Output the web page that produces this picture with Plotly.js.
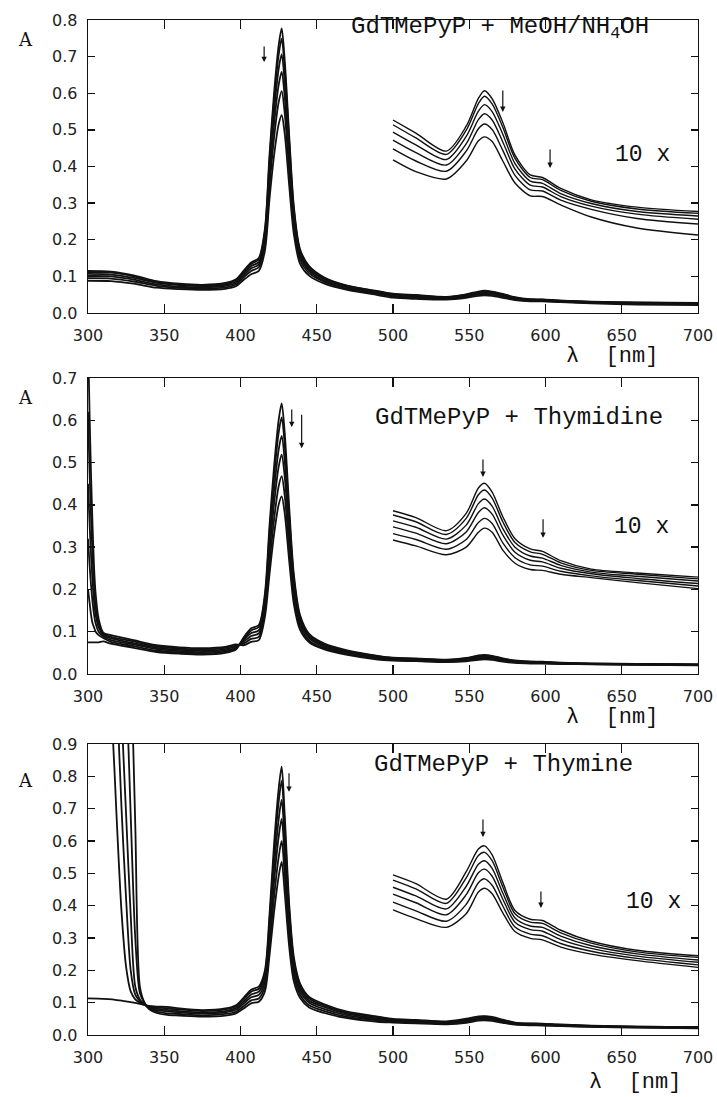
<!DOCTYPE html>
<html>
<head>
<meta charset="utf-8">
<script src="https://cdn.plot.ly/plotly-3.0.1.min.js"></script>
<style>html,body{margin:0;padding:0;background:#fff;}#chart{width:717px;height:1097px;}</style>
</head>
<body>
<div id="chart"></div>
<script>
// ---------- DATA (absorbance) ----------
const xTickVals = [300,350,400,450,500,550,600,650,700];
const insetStart = 500;      // the "10 x" traces are drawn for λ >= 500 nm
const insetFactor = 10;

// Panel 1: GdTMePyP + MeOH/NH4OH
const wl1 = [300,315,330,345,360,375,390,397,402,407,412,416,419,422,425,427,429,432,435,439,445,455,470,490,500,515,535,548,556,560,565,572,580,590,598,610,630,660,700];
const p1_c0 = [0.115,0.113,0.103,0.087,0.080,0.077,0.082,0.092,0.115,0.138,0.150,0.23,0.43,0.60,0.73,0.777,0.69,0.48,0.29,0.175,0.128,0.097,0.075,0.060,0.0527,0.0491,0.0442,0.0510,0.0586,0.0607,0.0585,0.0520,0.0431,0.0377,0.0370,0.0340,0.0309,0.0289,0.0277];
const p1_c1 = [0.112,0.110,0.100,0.085,0.078,0.075,0.080,0.090,0.112,0.134,0.146,0.223,0.416,0.580,0.704,0.749,0.666,0.464,0.281,0.170,0.125,0.095,0.074,0.059,0.0514,0.0478,0.0433,0.0499,0.0572,0.0592,0.0571,0.0507,0.0422,0.0370,0.0364,0.0335,0.0305,0.0284,0.0272];
const p1_c2 = [0.107,0.105,0.096,0.082,0.076,0.073,0.077,0.086,0.107,0.128,0.139,0.212,0.394,0.549,0.666,0.706,0.630,0.440,0.268,0.163,0.120,0.092,0.071,0.057,0.0494,0.0459,0.0419,0.0482,0.0551,0.0569,0.0550,0.0488,0.0408,0.0360,0.0354,0.0326,0.0299,0.0277,0.0265];
const p1_c3 = [0.101,0.100,0.091,0.078,0.072,0.070,0.074,0.082,0.102,0.122,0.132,0.200,0.370,0.515,0.622,0.658,0.590,0.412,0.252,0.155,0.115,0.088,0.069,0.0545,0.0472,0.0438,0.0404,0.0462,0.0528,0.0544,0.0527,0.0467,0.0393,0.0349,0.0344,0.0318,0.0292,0.0270,0.0256];
const p1_c4 = [0.095,0.094,0.086,0.074,0.069,0.067,0.070,0.078,0.097,0.115,0.125,0.187,0.344,0.478,0.575,0.606,0.546,0.383,0.236,0.146,0.109,0.085,0.066,0.052,0.0448,0.0415,0.0387,0.0442,0.0503,0.0516,0.0501,0.0444,0.0376,0.0336,0.0333,0.0308,0.0283,0.0258,0.0243];
const p1_c5 = [0.088,0.087,0.080,0.069,0.065,0.063,0.066,0.073,0.090,0.106,0.115,0.17,0.31,0.43,0.515,0.54,0.49,0.345,0.215,0.135,0.102,0.080,0.063,0.049,0.0418,0.0386,0.0366,0.0415,0.0470,0.0481,0.0468,0.0415,0.0355,0.0320,0.0318,0.0295,0.0262,0.0232,0.0213];

// Panel 2: GdTMePyP + Thymidine
const wl2 = [300,301,302,303,304,305,307,310,315,330,345,360,375,390,397,402,407,412,416,419,422,425,427,429,432,435,439,445,455,470,490,500,515,535,548,556,560,565,572,580,590,598,610,630,660,700];
const p2_c0 = [0.075,0.075,0.075,0.075,0.075,0.075,0.075,0.077,0.072,0.062,0.052,0.048,0.046,0.050,0.058,0.086,0.108,0.116,0.19,0.35,0.49,0.60,0.64,0.57,0.39,0.235,0.14,0.095,0.072,0.056,0.043,0.0386,0.0370,0.0339,0.0380,0.0440,0.0451,0.0430,0.0372,0.0320,0.0296,0.0290,0.0268,0.0248,0.0239,0.0229];
const p2_c1 = [0.20,0.17,0.14,0.12,0.11,0.10,0.092,0.085,0.076,0.066,0.055,0.051,0.049,0.053,0.060,0.083,0.103,0.111,0.182,0.333,0.466,0.570,0.607,0.542,0.371,0.225,0.135,0.092,0.070,0.054,0.042,0.0376,0.0360,0.0330,0.0368,0.0424,0.0435,0.0416,0.0360,0.0311,0.0289,0.0283,0.0263,0.0245,0.0236,0.0225];
const p2_c2 = [0.32,0.26,0.21,0.17,0.14,0.12,0.10,0.089,0.080,0.070,0.059,0.054,0.052,0.056,0.062,0.080,0.097,0.103,0.171,0.310,0.434,0.530,0.563,0.504,0.346,0.211,0.128,0.088,0.067,0.052,0.040,0.0362,0.0347,0.0319,0.0352,0.0403,0.0414,0.0397,0.0344,0.0300,0.0279,0.0274,0.0257,0.0241,0.0231,0.0220];
const p2_c3 = [0.45,0.36,0.28,0.22,0.17,0.14,0.11,0.092,0.084,0.073,0.062,0.057,0.055,0.059,0.065,0.076,0.090,0.096,0.160,0.287,0.402,0.490,0.519,0.466,0.321,0.197,0.121,0.084,0.064,0.050,0.038,0.0348,0.0333,0.0308,0.0336,0.0382,0.0393,0.0378,0.0329,0.0288,0.0269,0.0265,0.0250,0.0237,0.0226,0.0214];
const p2_c4 = [0.62,0.48,0.37,0.28,0.21,0.16,0.12,0.095,0.088,0.077,0.065,0.060,0.058,0.062,0.067,0.072,0.083,0.088,0.147,0.260,0.365,0.444,0.468,0.422,0.293,0.180,0.113,0.079,0.061,0.047,0.036,0.0332,0.0318,0.0295,0.0318,0.0358,0.0368,0.0356,0.0310,0.0275,0.0258,0.0255,0.0243,0.0232,0.0221,0.0208];
const p2_c5 = [0.80,0.62,0.47,0.35,0.25,0.19,0.13,0.098,0.092,0.080,0.068,0.063,0.061,0.064,0.070,0.068,0.076,0.080,0.135,0.235,0.33,0.40,0.42,0.38,0.265,0.165,0.105,0.075,0.058,0.045,0.034,0.0317,0.0303,0.0282,0.0300,0.0335,0.0345,0.0335,0.0293,0.0262,0.0247,0.0245,0.0236,0.0228,0.0216,0.0202];

// Panel 3: GdTMePyP + Thymine
const wl3 = [300,310,316,319,322,325,328,331,334,337,340,345,352,360,375,390,397,402,407,412,416,419,422,425,427,429,432,435,439,445,455,470,490,500,515,535,548,556,560,565,572,580,590,598,610,630,660,700];
const p3_c0 = [0.113,0.112,0.110,0.108,0.106,0.104,0.102,0.099,0.096,0.093,0.090,0.088,0.087,0.082,0.077,0.082,0.092,0.115,0.140,0.150,0.20,0.37,0.59,0.76,0.83,0.68,0.40,0.24,0.16,0.118,0.095,0.072,0.057,0.0495,0.0468,0.0420,0.0505,0.0575,0.0585,0.0557,0.0472,0.0385,0.0358,0.0354,0.0324,0.0290,0.0262,0.0245];
const p3_c1 = [1.4,1.4,0.95,0.65,0.38,0.21,0.135,0.110,0.100,0.093,0.088,0.085,0.083,0.079,0.074,0.079,0.088,0.110,0.134,0.143,0.190,0.351,0.558,0.720,0.786,0.644,0.381,0.229,0.153,0.113,0.091,0.069,0.055,0.0479,0.0452,0.0407,0.0486,0.0555,0.0565,0.0539,0.0458,0.0375,0.0349,0.0345,0.0316,0.0284,0.0257,0.0240];
const p3_c2 = [1.4,1.4,1.4,1.05,0.70,0.42,0.20,0.125,0.105,0.095,0.087,0.081,0.078,0.074,0.070,0.074,0.083,0.103,0.125,0.134,0.177,0.326,0.516,0.666,0.727,0.596,0.355,0.214,0.144,0.106,0.086,0.065,0.051,0.0457,0.0430,0.0390,0.0460,0.0528,0.0539,0.0515,0.0439,0.0362,0.0337,0.0333,0.0306,0.0276,0.0251,0.0232];
const p3_c3 = [1.4,1.4,1.4,1.4,1.0,0.68,0.37,0.15,0.11,0.095,0.085,0.077,0.073,0.070,0.066,0.070,0.078,0.097,0.117,0.124,0.164,0.301,0.474,0.612,0.668,0.548,0.329,0.199,0.135,0.100,0.080,0.061,0.048,0.0436,0.0409,0.0372,0.0434,0.0502,0.0513,0.0491,0.0420,0.0349,0.0326,0.0321,0.0295,0.0268,0.0244,0.0225];
const p3_c4 = [1.4,1.4,1.4,1.4,1.4,1.1,0.68,0.30,0.13,0.10,0.083,0.072,0.067,0.065,0.061,0.065,0.072,0.089,0.107,0.113,0.149,0.272,0.426,0.549,0.600,0.493,0.299,0.182,0.125,0.092,0.074,0.056,0.045,0.0411,0.0384,0.0352,0.0404,0.0471,0.0483,0.0463,0.0399,0.0334,0.0312,0.0307,0.0283,0.0259,0.0237,0.0217];
const p3_c5 = [1.4,1.4,1.4,1.4,1.4,1.4,1.15,0.65,0.15,0.10,0.080,0.068,0.062,0.060,0.057,0.060,0.067,0.082,0.098,0.103,0.135,0.245,0.38,0.49,0.535,0.44,0.27,0.165,0.115,0.085,0.068,0.052,0.041,0.0387,0.0360,0.0333,0.0375,0.0442,0.0454,0.0437,0.0378,0.0320,0.0299,0.0294,0.0272,0.0250,0.0230,0.0209];

const panels = [
  {wl: wl1, curves: [p1_c0,p1_c1,p1_c2,p1_c3,p1_c4,p1_c5], ax: ''},
  {wl: wl2, curves: [p2_c0,p2_c1,p2_c2,p2_c3,p2_c4,p2_c5], ax: '2'},
  {wl: wl3, curves: [p3_c0,p3_c1,p3_c2,p3_c3,p3_c4,p3_c5], ax: '3'}
];
const titles = ['GdTMePyP + MeOH/NH<sub>4</sub>OH', 'GdTMePyP + Thymidine', 'GdTMePyP + Thymine'];
const yRanges = [0.8, 0.7, 0.9];

// ---------- TRACES ----------
const traces = [];
panels.forEach(p => {
  p.curves.forEach(c => {
    traces.push({x: p.wl, y: c, type: 'scatter', mode: 'lines',
      line: {color: '#111', width: 1.8, shape: 'spline', smoothing: 0.8},
      xaxis: 'x' + p.ax, yaxis: 'y' + p.ax, hoverinfo: 'skip'});
    const xi = [], yi = [];
    p.wl.forEach((w, i) => { if (w >= insetStart) { xi.push(w); yi.push(c[i] * insetFactor); } });
    traces.push({x: xi, y: yi, type: 'scatter', mode: 'lines',
      line: {color: '#111', width: 1.4, shape: 'spline', smoothing: 0.8},
      xaxis: 'x' + p.ax, yaxis: 'y' + p.ax, hoverinfo: 'skip'});
  });
});

// ---------- LAYOUT ----------
const W = 717, H = 1097;
const px = v => v / W, py = v => 1 - v / H;
const plotBoxes = [[20, 313], [378, 674], [744, 1035]];
const TICKFONT = {family: 'DejaVu Sans', size: 16, color: '#222'};
const SERIF = 'DejaVu Serif';
const MONO = 'Liberation Mono';

const layout = {
  width: W, height: H, margin: {l: 0, r: 0, t: 0, b: 0},
  paper_bgcolor: '#fff', plot_bgcolor: '#fff', showlegend: false, hovermode: false,
  annotations: []
};
panels.forEach((p, i) => {
  const xa = {domain: [px(88), px(698)], range: [300, 700], tickvals: xTickVals,
    anchor: 'y' + p.ax, showline: true, linecolor: '#111', linewidth: 1.3, mirror: 'ticks',
    ticks: 'inside', ticklen: 9, tickwidth: 1.3, tickcolor: '#111', showgrid: false, zeroline: false,
    tickfont: TICKFONT, ticklabelstandoff: 7};
  const yt = [];
  for (let k = 0; k <= Math.round(yRanges[i] * 10); k++) yt.push(k / 10);
  const ya = {domain: [py(plotBoxes[i][1]), py(plotBoxes[i][0])], range: [0, yRanges[i]], tickvals: yt,
    tickformat: '.1f', anchor: 'x' + p.ax, showline: true, linecolor: '#111', linewidth: 1.3, mirror: 'ticks',
    ticks: 'inside', ticklen: 7, tickwidth: 1.3, tickcolor: '#111', showgrid: false, zeroline: false,
    tickfont: TICKFONT, ticklabelstandoff: 6};
  layout['xaxis' + p.ax] = xa;
  layout['yaxis' + p.ax] = ya;
});

function txt(text, x, y, size, family, extra) {
  layout.annotations.push(Object.assign({text: text, xref: 'paper', yref: 'paper', x: px(x), y: py(y),
    xanchor: 'center', yanchor: 'middle', showarrow: false, font: {family: family, size: size, color: '#111'}}, extra || {}));
}
txt(titles[0], 500, 28, 24, MONO);
txt(titles[1], 519, 417, 24, MONO);
txt(titles[2], 503, 764, 24, MONO);
txt('10 x', 642, 155, 23, MONO);
txt('10 x', 641, 527, 23, MONO);
txt('10 x', 653, 902, 23, MONO);
txt('A', 25, 40, 18, SERIF);
txt('A', 25, 397, 18, SERIF);
txt('A', 25, 780, 18, SERIF);
txt('λ  [nm]', 612, 356, 22, MONO);
txt('λ  [nm]', 612, 718, 22, MONO);
txt('λ  [nm]', 635, 1082, 22, MONO);

function arrow(ax, lam, a, len) {
  layout.annotations.push({text: '', xref: 'x' + ax, yref: 'y' + ax, x: lam, y: a, ax: 0, ay: -len,
    showarrow: true, arrowhead: 2, arrowsize: 0.9, arrowwidth: 1.2, arrowcolor: '#111', standoff: 0, startstandoff: 0});
}
arrow('', 415.5, 0.685, 17);
arrow('', 572, 0.549, 23);
arrow('', 603, 0.396, 20);
arrow('2', 433.6, 0.584, 19);
arrow('2', 440.1, 0.534, 35);
arrow('2', 559, 0.466, 19);
arrow('2', 598.4, 0.322, 20);
arrow('3', 431.8, 0.752, 20);
arrow('3', 559, 0.612, 19);
arrow('3', 597, 0.393, 18);

Plotly.newPlot('chart', traces, layout, {staticPlot: true, displayModeBar: false});
</script>
</body>
</html>
